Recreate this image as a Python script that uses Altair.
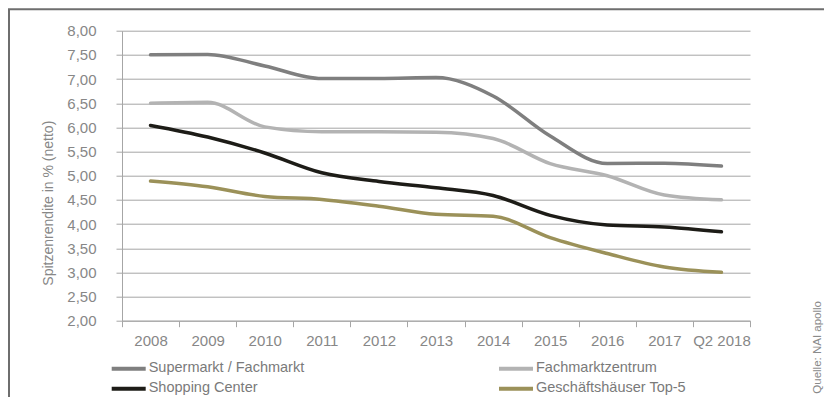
import altair as alt
import pandas as pd

years = ["2008", "2009", "2010", "2011", "2012", "2013", "2014", "2015", "2016", "2017", "Q2 2018"]
series = ["Supermarkt / Fachmarkt", "Fachmarktzentrum", "Shopping Center", "Geschäftshäuser Top-5"]
supermarkt = [7.50, 7.51, 7.27, 7.01, 7.01, 7.03, 6.65, 5.82, 5.25, 5.26, 5.20]
fachmarktzentrum = [6.50, 6.52, 6.01, 5.91, 5.91, 5.90, 5.77, 5.25, 5.00, 4.60, 4.50]
shopping = [6.04, 5.80, 5.47, 5.06, 4.88, 4.75, 4.59, 4.18, 3.98, 3.94, 3.84]
geschaeft = [4.89, 4.77, 4.57, 4.51, 4.37, 4.20, 4.16, 3.72, 3.39, 3.11, 3.00]
y_ticks = [2.0, 2.5, 3.0, 3.5, 4.0, 4.5, 5.0, 5.5, 6.0, 6.5, 7.0, 7.5, 8.0]
colors = ["#7f7f7f", "#b3b3b3", "#1d1c17", "#9b9159"]
source = "Quelle: NAI apollo"
y_title = "Spitzenrendite in % (netto)"

rows = []
for name, vals in zip(series, [supermarkt, fachmarktzentrum, shopping, geschaeft]):
    for yr, v in zip(years, vals):
        rows.append({"Jahr": yr, "Serie": name, "Wert": v})
df = pd.DataFrame(rows)

leg_df = pd.DataFrame({"Serie": series, "col": [0, 1, 0, 1], "row": [0, 0, 1, 1]})

FONT = "Liberation Sans"
GRID = "#a6a6a6"
LABEL = "#878787"
color_scale = alt.Scale(domain=series, range=colors)

lines = alt.Chart(df).mark_line(interpolate="monotone", strokeWidth=3.5, strokeCap="round").encode(
    x=alt.X("Jahr:N", sort=years,
            scale=alt.Scale(type="band", paddingInner=0, paddingOuter=0),
            axis=alt.Axis(title=None, labelAngle=0, tickBand="extent", grid=False,
                          domain=True, domainColor=GRID, tickColor=GRID, tickSize=6,
                          labelPadding=7, labelFont=FONT, labelFontSize=15, labelColor=LABEL)),
    y=alt.Y("Wert:Q", scale=alt.Scale(domain=[2, 8], nice=False, zero=False),
            axis=alt.Axis(title=y_title, values=y_ticks,
                          labelExpr="replace(format(datum.value, '.2f'), '.', ',')",
                          grid=True, gridColor=GRID, gridWidth=1,
                          domain=True, domainColor=GRID, tickColor=GRID, tickSize=6,
                          labelPadding=20, labelFont=FONT, labelFontSize=15, labelColor=LABEL,
                          titleFont=FONT, titleFontSize=14, titleFontWeight="normal",
                          titleColor=LABEL, titleAngle=270, titleAlign="center",
                          titleBaseline="middle", titleX=-74, titleY=172)),
    color=alt.Color("Serie:N", scale=color_scale, legend=None),
)

lx = alt.X("col:Q", scale=alt.Scale(domain=[0, 1], range=[-10.3, 377]), axis=None)
ly = alt.Y("row:Q", scale=alt.Scale(domain=[0, 1], range=[337.5, 357.5]), axis=None)

leg_sym = alt.Chart(leg_df).mark_rule(strokeWidth=4, x2Offset=34, yOffset=0.5).encode(
    x=lx, x2=alt.X2("col:Q"), y=ly,
    color=alt.Color("Serie:N", scale=color_scale, legend=None),
)
leg_txt = alt.Chart(leg_df).mark_text(align="left", baseline="middle", dx=37, font=FONT,
                                      fontSize=14.5, color="#7a7a7a").encode(
    x=lx, y=ly, text="Serie:N"
)

src = alt.Chart(pd.DataFrame({"t": [source]})).mark_text(
    angle=270, align="left", baseline="middle", fontSize=11.5, font=FONT, color="#8a8a8a"
).encode(x=alt.value(695.5), y=alt.value(363), text="t:N")

frame_left = alt.Chart(pd.DataFrame({"a": [0]})).mark_rule(color="#6e6e6e", strokeWidth=2).encode(
    x=alt.value(-113), y=alt.value(-21.5), y2=alt.value(367)
)
frame_top = alt.Chart(pd.DataFrame({"a": [0]})).mark_rule(color="#6e6e6e", strokeWidth=2).encode(
    x=alt.value(-114), x2=alt.value(702), y=alt.value(-21.5)
)

chart = alt.layer(lines, leg_sym, leg_txt, src, frame_left, frame_top).resolve_scale(
    x="independent", y="independent"
).properties(
    width=628, height=290,
    autosize=alt.AutoSizeParams(type="none"),
    padding={"left": 114, "top": 22.7, "right": 74, "bottom": 76.3},
).configure_view(stroke=None)

chart.save("out.html", embed_options={"renderer": "svg", "actions": False})
